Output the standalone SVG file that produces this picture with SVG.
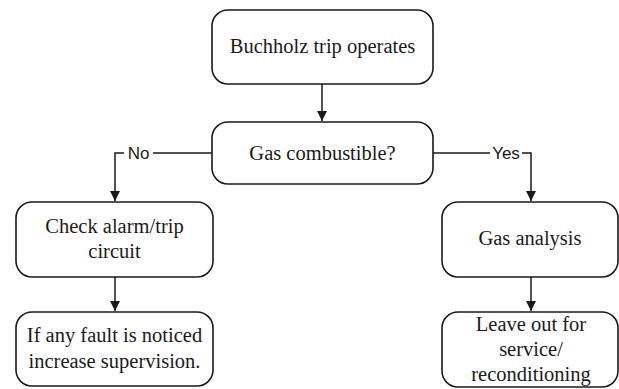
<svg xmlns="http://www.w3.org/2000/svg" width="619" height="389" viewBox="0 0 619 389">
  <defs>
    <marker id="arrow" viewBox="0 0 10 10" refX="10" refY="5" markerWidth="10" markerHeight="10" markerUnits="userSpaceOnUse" orient="auto">
      <path d="M0,0 L10,5 L0,10 Z" fill="#1a1a1a"/>
    </marker>
  </defs>
  <style>
    .box { fill: #ffffff; stroke: #1a1a1a; stroke-width: 1.6; }
    .lbl { font-family: "Liberation Serif", "Times New Roman", serif; font-size: 20.5px; fill: #1a1a1a; text-anchor: middle; }
    .edge { fill: none; stroke: #1a1a1a; stroke-width: 1.5; }
    .elbl { font-family: "Liberation Sans", Arial, sans-serif; font-size: 17px; fill: #1a1a1a; text-anchor: middle; }
  </style>
  <rect width="619" height="389" fill="#ffffff"/>

  <g id="connectors">
    <path class="edge" d="M322,84 L322,121" marker-end="url(#arrow)"/>
    <path class="edge" d="M212,153 L115,153 L115,201" marker-end="url(#arrow)"/>
    <path class="edge" d="M433,153 L531,153 L531,201" marker-end="url(#arrow)"/>
    <path class="edge" d="M115,277 L115,311" marker-end="url(#arrow)"/>
    <path class="edge" d="M531,277 L531,311" marker-end="url(#arrow)"/>
    <rect x="124" y="144" width="29" height="18" fill="#ffffff"/>
    <text class="elbl" x="138.5" y="159">No</text>
    <rect x="490" y="144" width="32" height="18" fill="#ffffff"/>
    <text class="elbl" x="506" y="159">Yes</text>
  </g>

  <g id="buchholz-trip">
    <rect class="box" x="212" y="10" width="221" height="74" rx="16"/>
    <text class="lbl" x="322.5" y="53">Buchholz trip operates</text>
  </g>

  <g id="gas-combustible">
    <rect class="box" x="212" y="122" width="221" height="62" rx="16"/>
    <text class="lbl" x="322.5" y="160">Gas combustible?</text>
  </g>

  <g id="check-circuit">
    <rect class="box" x="16" y="202" width="197" height="75" rx="16"/>
    <text class="lbl" x="114.5" y="233">Check alarm/trip</text>
    <text class="lbl" x="114.5" y="258">circuit</text>
  </g>

  <g id="increase-supervision">
    <rect class="box" x="16" y="312" width="197" height="74" rx="16"/>
    <text class="lbl" x="114.5" y="342">If any fault is noticed</text>
    <text class="lbl" x="114.5" y="368">increase supervision.</text>
  </g>

  <g id="gas-analysis">
    <rect class="box" x="442" y="202" width="176" height="75" rx="16"/>
    <text class="lbl" x="530" y="245">Gas analysis</text>
  </g>

  <g id="leave-out">
    <rect class="box" x="442" y="312" width="176" height="75" rx="16"/>
    <text class="lbl" x="531" y="331">Leave out for</text>
    <text class="lbl" x="531" y="356">service/</text>
    <text class="lbl" x="531" y="381">reconditioning</text>
  </g>
</svg>
